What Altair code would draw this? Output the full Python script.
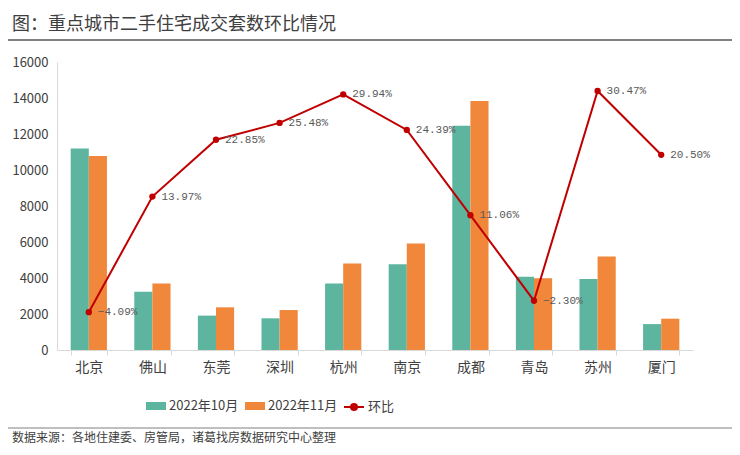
import altair as alt
import pandas as pd

cities = ["北京", "佛山", "东莞", "深圳", "杭州", "南京", "成都", "青岛", "苏州", "厦门"]
months = ["2022年10月", "2022年11月"]
oct_vals = [11200, 3240, 1910, 1760, 3690, 4760, 12460, 4070, 3940, 1440]
nov_vals = [10780, 3690, 2370, 2220, 4800, 5910, 13830, 3980, 5190, 1740]
ratio = [-4.09, 13.97, 22.85, 25.48, 29.94, 24.39, 11.06, -2.30, 30.47, 20.50]
series_name = "环比"
title_text = "图：重点城市二手住宅成交套数环比情况"
source_text = "数据来源：各地住建委、房管局，诸葛找房数据研究中心整理"

TEAL = "#5DB5A0"
ORANGE = "#F0873A"
RED = "#C00000"
AXIS_GRAY = "#D9D9D9"
TEXT = "#404040"
FONT = "Noto Sans CJK SC"

bars_df = pd.DataFrame({
    "city": cities * 2,
    "month": [months[0]] * len(cities) + [months[1]] * len(cities),
    "value": oct_vals + nov_vals,
})
line_df = pd.DataFrame({"city": cities, "ratio": ratio, "series": [series_name] * len(cities)})
one = pd.DataFrame({"a": [0]})

x_enc = alt.X(
    "city:N", sort=cities,
    scale=alt.Scale(paddingInner=0.43, paddingOuter=0.215),
    axis=alt.Axis(title=None, labelAngle=0, labelFont=FONT, labelFontSize=14, labelColor=TEXT,
                  labelPadding=5, domainColor=AXIS_GRAY, tickColor=AXIS_GRAY, tickSize=5,
                  tickBand="extent", grid=False),
)

bars = alt.Chart(bars_df).mark_bar().encode(
    x=x_enc,
    xOffset=alt.XOffset("month:N", sort=months, scale=alt.Scale(paddingInner=0, paddingOuter=0)),
    y=alt.Y("value:Q", scale=alt.Scale(domain=[0, 16000], nice=False),
            axis=alt.Axis(title=None, values=list(range(0, 16001, 2000)), format="d",
                          labelFont=FONT, labelFontSize=13, labelColor=TEXT, labelPadding=9,
                          ticks=False, domainColor=AXIS_GRAY, grid=False)),
    color=alt.Color("month:N", scale=alt.Scale(domain=months, range=[TEAL, ORANGE]),
                    legend=alt.Legend(title=None, orient="none", legendX=89, legendY=334,
                                      direction="horizontal", symbolType="M-1,-0.4H1V0.4H-1Z",
                                      symbolSize=400, symbolStrokeWidth=0, labelFont=FONT,
                                      labelFontSize=13, labelColor=TEXT, columnPadding=6,
                                      labelOffset=3)),
)

y_r = alt.Y("ratio:Q", scale=alt.Scale(domain=[-10, 35], nice=False),
            axis=alt.Axis(title=None, orient="right", values=list(range(-10, 36, 5)),
                          labelExpr="datum.value + '%'", labelFont=FONT, labelFontSize=13,
                          labelColor=TEXT, labelPadding=4, tickSize=4, tickColor=AXIS_GRAY,
                          domainColor=AXIS_GRAY, grid=False))
y_r_noaxis = alt.Y("ratio:Q", scale=alt.Scale(domain=[-10, 35], nice=False), axis=None)

line = alt.Chart(line_df).mark_line(strokeWidth=2).encode(
    x=alt.X("city:N", sort=cities),
    y=y_r,
    stroke=alt.Stroke("series:N", scale=alt.Scale(domain=[series_name], range=[RED]),
                      legend=alt.Legend(title=None, orient="none", legendX=286, legendY=334,
                                        symbolType="M-1,0H1M-0.3,0A0.3,0.3 0 1 1 0.3,0A0.3,0.3 0 1 1 -0.3,0",
                                        symbolSize=400, symbolStrokeWidth=2,
                                        symbolFillColor=RED, symbolStrokeColor=RED,
                                        labelFont=FONT, labelFontSize=13, labelColor=TEXT,
                                        labelOffset=3)),
)
points = alt.Chart(line_df).mark_point(filled=True, size=40, color=RED, opacity=1).encode(
    x=alt.X("city:N", sort=cities), y=y_r_noaxis)
labels = alt.Chart(line_df).transform_calculate(
    lbl="format(datum.ratio, '.2f') + '%'"
).mark_text(align="left", baseline="middle", dx=9, font="Liberation Mono", fontSize=11,
            color="#595959").encode(x=alt.X("city:N", sort=cities), y=y_r_noaxis, text="lbl:N")

line_layer = alt.layer(line, points, labels)

title_mark = alt.Chart(one).mark_text(align="left", baseline="middle", font=FONT, fontSize=18,
                                      color=TEXT).encode(
    x=alt.value(-45), y=alt.value(-37), text=alt.value(title_text))
title_rule = alt.Chart(one).mark_rule(color="#595959", strokeWidth=1.5).encode(
    x=alt.value(-57), x2=alt.value(690), y=alt.value(-22))
foot_rule = alt.Chart(one).mark_rule(color="#BFBFBF", strokeWidth=2).encode(
    x=alt.value(-52), x2=alt.value(690), y=alt.value(366))
foot_text = alt.Chart(one).mark_text(align="left", baseline="middle", font=FONT, fontSize=12,
                                     color=TEXT).encode(
    x=alt.value(-45), y=alt.value(376), text=alt.value(source_text))

chart = alt.layer(bars, line_layer, title_mark, title_rule, foot_rule, foot_text).resolve_scale(
    y="independent"
).properties(
    width=636, height=288,
    autosize=alt.AutoSizeParams(type="none"),
    padding={"left": 49, "top": 54, "right": 39, "bottom": 96},
).configure_view(stroke=None)

chart.save("out.html", embed_options={"renderer": "svg", "actions": False})
